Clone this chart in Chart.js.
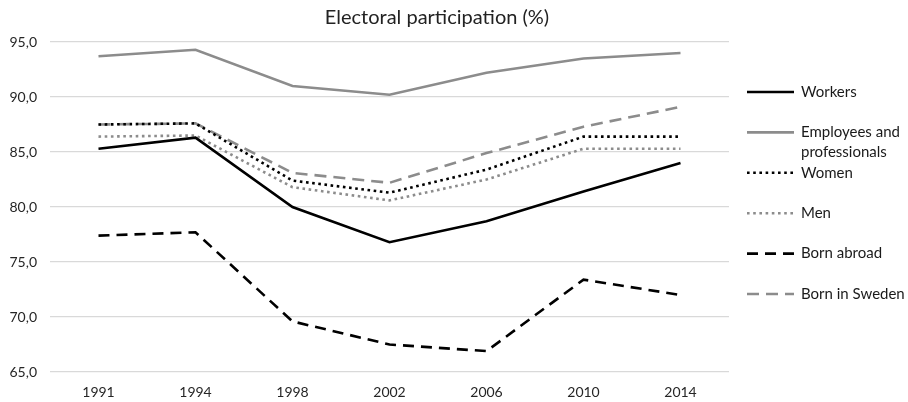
<!DOCTYPE html>
<html>
<head>
<meta charset="utf-8">
<script src="https://cdn.jsdelivr.net/npm/chart.js@4.4.1/dist/chart.umd.min.js"></script>
<style>
  html, body { margin: 0; padding: 0; background: #fff; }
  #wrap { width: 908px; height: 402px; }
</style>
</head>
<body>
<div id="wrap"><canvas id="chart"></canvas></div>
<script>
// values
const years = ['1991', '1994', '1998', '2002', '2006', '2010', '2014'];
const workers = [85.3, 86.3, 80.0, 76.8, 78.7, 81.4, 84.0];
const employees = [93.7, 94.3, 91.0, 90.2, 92.2, 93.5, 94.0];
const women = [87.5, 87.6, 82.4, 81.3, 83.4, 86.4, 86.4];
const men = [86.4, 86.5, 81.8, 80.6, 82.5, 85.3, 85.3];
const bornAbroad = [77.4, 77.7, 69.6, 67.5, 66.9, 73.4, 72.0];
const bornSweden = [87.5, 87.6, 83.1, 82.2, 84.9, 87.3, 89.1];
const yTicks = [65, 70, 75, 80, 85, 90, 95];

const FONT = 'Lato, "Open Sans", sans-serif';
const GREY = '#8c8c8c';

const line = (label, data, color, dash) => ({
    label: label,
    data: data,
    borderColor: color,
    backgroundColor: color,
    borderWidth: 2.6,
    borderDash: dash,
    borderCapStyle: 'butt',
    borderJoinStyle: 'miter',
    pointRadius: 0,
    tension: 0,
    fill: false
});

// Title drawn by hand so it sits where the reference has it
const titlePlugin = {
    id: 'fixedTitle',
    afterDraw(chart) {
        const ctx = chart.ctx;
        ctx.save();
        ctx.font = '20px ' + FONT;
        ctx.fillStyle = '#222';
        ctx.textAlign = 'center';
        ctx.textBaseline = 'middle';
        ctx.fillText('Electoral participation (%)', 437, 18);
        ctx.restore();
    }
};

// Right-hand legend with wrapped labels
const legendPlugin = {
    id: 'sideLegend',
    afterDraw(chart) {
        const ctx = chart.ctx;
        const x0 = 747, x1 = 794, tx = 801, maxW = 107;
        ctx.save();
        ctx.font = '15px ' + FONT;
        ctx.textBaseline = 'middle';
        chart.data.datasets.forEach((ds, i) => {
            const y = 92 + i * 40.4;
            ctx.strokeStyle = ds.borderColor;
            ctx.lineWidth = ds.borderWidth;
            ctx.setLineDash(ds.borderDash || []);
            ctx.beginPath();
            ctx.moveTo(x0, y);
            ctx.lineTo(x1, y);
            ctx.stroke();

            // simple word wrap
            const words = ds.label.split(' ');
            const lines = [];
            let cur = '';
            words.forEach(w => {
                const test = cur ? cur + ' ' + w : w;
                if (ctx.measureText(test).width > maxW && cur) {
                    lines.push(cur);
                    cur = w;
                } else {
                    cur = test;
                }
            });
            lines.push(cur);
            ctx.fillStyle = '#1a1a1a';
            lines.forEach((t, k) => ctx.fillText(t, tx, y + k * 20));
        });
        ctx.restore();
    }
};

const ctx = document.getElementById('chart').getContext('2d');

new Chart(ctx, {
    type: 'line',
    data: {
        labels: years,
        datasets: [
            line('Workers', workers, '#000', []),
            line('Employees and professionals', employees, GREY, []),
            line('Women', women, '#000', [2.6, 3.6]),
            line('Men', men, GREY, [2.6, 3.6]),
            line('Born abroad', bornAbroad, '#000', [11, 7]),
            line('Born in Sweden', bornSweden, GREY, [12, 7])
        ]
    },
    options: {
        responsive: true,
        maintainAspectRatio: false,
        animation: false,
        layout: { padding: { top: 42, right: 179, left: 0, bottom: 0 } },
        plugins: {
            legend: { display: false },
            title: { display: false },
            tooltip: { enabled: false }
        },
        scales: {
            x: {
                offset: true,
                grid: { display: false, drawTicks: false },
                border: { display: false },
                ticks: {
                    color: '#262626',
                    font: { family: FONT, size: 14 },
                    padding: 12,
                    maxRotation: 0
                },
                afterFit: scale => { scale.height = 30; }
            },
            y: {
                min: 65,
                max: 95,
                afterBuildTicks: scale => {
                    scale.ticks = yTicks.map(v => ({ value: v }));
                },
                grid: { color: '#d9d9d9', lineWidth: 1.3, drawTicks: false },
                border: { display: false },
                ticks: {
                    color: '#262626',
                    font: { family: FONT, size: 14 },
                    padding: 13,
                    callback: v => v.toFixed(1).replace('.', ',')
                },
                afterFit: scale => { scale.width = 50; }
            }
        }
    },
    plugins: [titlePlugin, legendPlugin]
});
</script>
</body>
</html>
